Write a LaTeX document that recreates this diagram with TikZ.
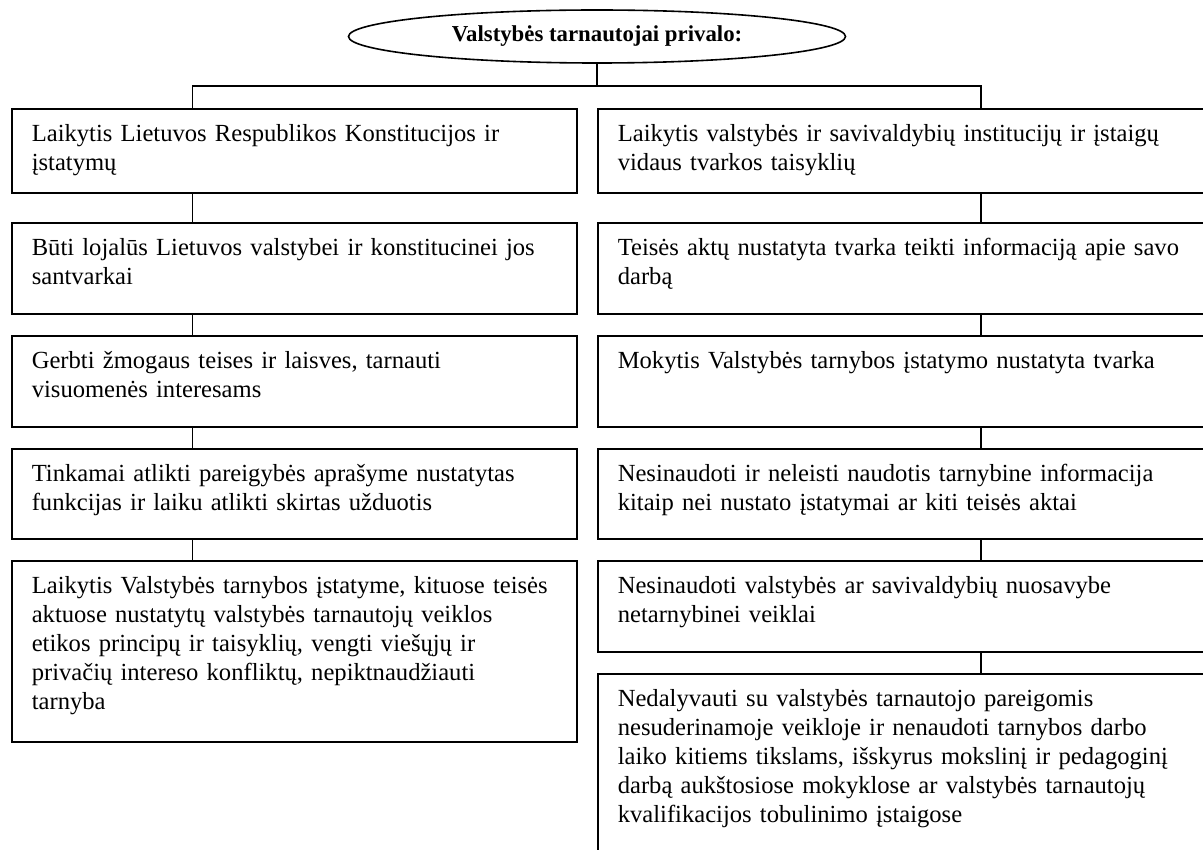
\documentclass[tikz,border=0pt]{standalone}
\usepackage{fontspec}
\setmainfont{Liberation Serif}
\usetikzlibrary{positioning,shapes.geometric}
\tikzset{
  head/.style={draw, ellipse, minimum width=248.5pt, minimum height=26.5pt, inner sep=0pt, font=\fontsize{11.4}{13}\selectfont\bfseries},
  duty/.style={draw, anchor=north west, align=left, inner xsep=10pt, inner ysep=6.5pt, text height=10pt, font=\fontsize{12.3}{14.5}\selectfont},
  lduty/.style={duty, text width=262.5pt, text depth=#1},
  rduty/.style={duty, text width=289pt, text depth=#1}
}
\begin{document}
\begin{tikzpicture}[x=0.5pt, y=-0.5pt, line width=0.8pt]
    \useasboundingbox (0,0) rectangle (1203,850);
    \clip (0,0) rectangle (1203,850);
    \node[head] (privalo) at (597,36.5) {Valstybės tarnautojai privalo:};
    \coordinate (ljoin) at (192.5,86);
    \coordinate (rjoin) at (981,86);
    % left column
    \node[lduty=19pt] (l1) at (11,108) {Laikytis Lietuvos Respublikos Konstitucijos ir\\ įstatymų};
    \node[lduty=22.5pt] (l2) at (11,222) {Būti lojalūs Lietuvos valstybei ir konstitucinei jos\\ santvarkai};
    \node[lduty=22.5pt] (l3) at (11,335) {Gerbti žmogaus teises ir laisves, tarnauti\\ visuomenės interesams};
    \node[lduty=22pt] (l4) at (11,448) {Tinkamai atlikti pareigybės aprašyme nustatytas\\ funkcijas ir laiku atlikti skirtas užduotis};
    \node[lduty=67.5pt] (l5) at (11,560) {Laikytis Valstybės tarnybos įstatyme, kituose teisės\\ aktuose nustatytų valstybės tarnautojų veiklos\\ etikos principų ir taisyklių, vengti viešųjų ir\\ privačių intereso konfliktų, nepiktnaudžiauti\\ tarnyba};
    % right column
    \node[rduty=19pt] (r1) at (597,108) {Laikytis valstybės ir savivaldybių institucijų ir įstaigų\\ vidaus tvarkos taisyklių};
    \node[rduty=22.5pt] (r2) at (597,222) {Teisės aktų nustatyta tvarka teikti informaciją apie savo\\ darbą};
    \node[rduty=22.5pt] (r3) at (597,335) {Mokytis Valstybės tarnybos įstatymo nustatyta tvarka};
    \node[rduty=22pt] (r4) at (597,448) {Nesinaudoti ir neleisti naudotis tarnybine informacija\\ kitaip nei nustato įstatymai ar kiti teisės aktai};
    \node[rduty=22.5pt] (r5) at (597,560) {Nesinaudoti valstybės ar savivaldybių nuosavybe\\ netarnybinei veiklai};
    \node[rduty=87pt] (r6) at (597,673) {Nedalyvauti su valstybės tarnautojo pareigomis\\ nesuderinamoje veikloje ir nenaudoti tarnybos darbo\\ laiko kitiems tikslams, išskyrus mokslinį ir pedagoginį\\ darbą aukštosiose mokyklose ar valstybės tarnautojų\\ kvalifikacijos tobulinimo įstaigose};
    % connectors
    \draw (privalo.south) -- (privalo.south |- ljoin);
    \draw (l1.north -| ljoin) -- (ljoin) -- (rjoin) -- (r1.north -| rjoin);
    \draw (l1.south -| ljoin) -- (l2.north -| ljoin);
    \draw (l2.south -| ljoin) -- (l3.north -| ljoin);
    \draw (l3.south -| ljoin) -- (l4.north -| ljoin);
    \draw (l4.south -| ljoin) -- (l5.north -| ljoin);
    \draw (r1.south -| rjoin) -- (r2.north -| rjoin);
    \draw (r2.south -| rjoin) -- (r3.north -| rjoin);
    \draw (r3.south -| rjoin) -- (r4.north -| rjoin);
    \draw (r4.south -| rjoin) -- (r5.north -| rjoin);
    \draw (r5.south -| rjoin) -- (r6.north -| rjoin);
\end{tikzpicture}
\end{document}
